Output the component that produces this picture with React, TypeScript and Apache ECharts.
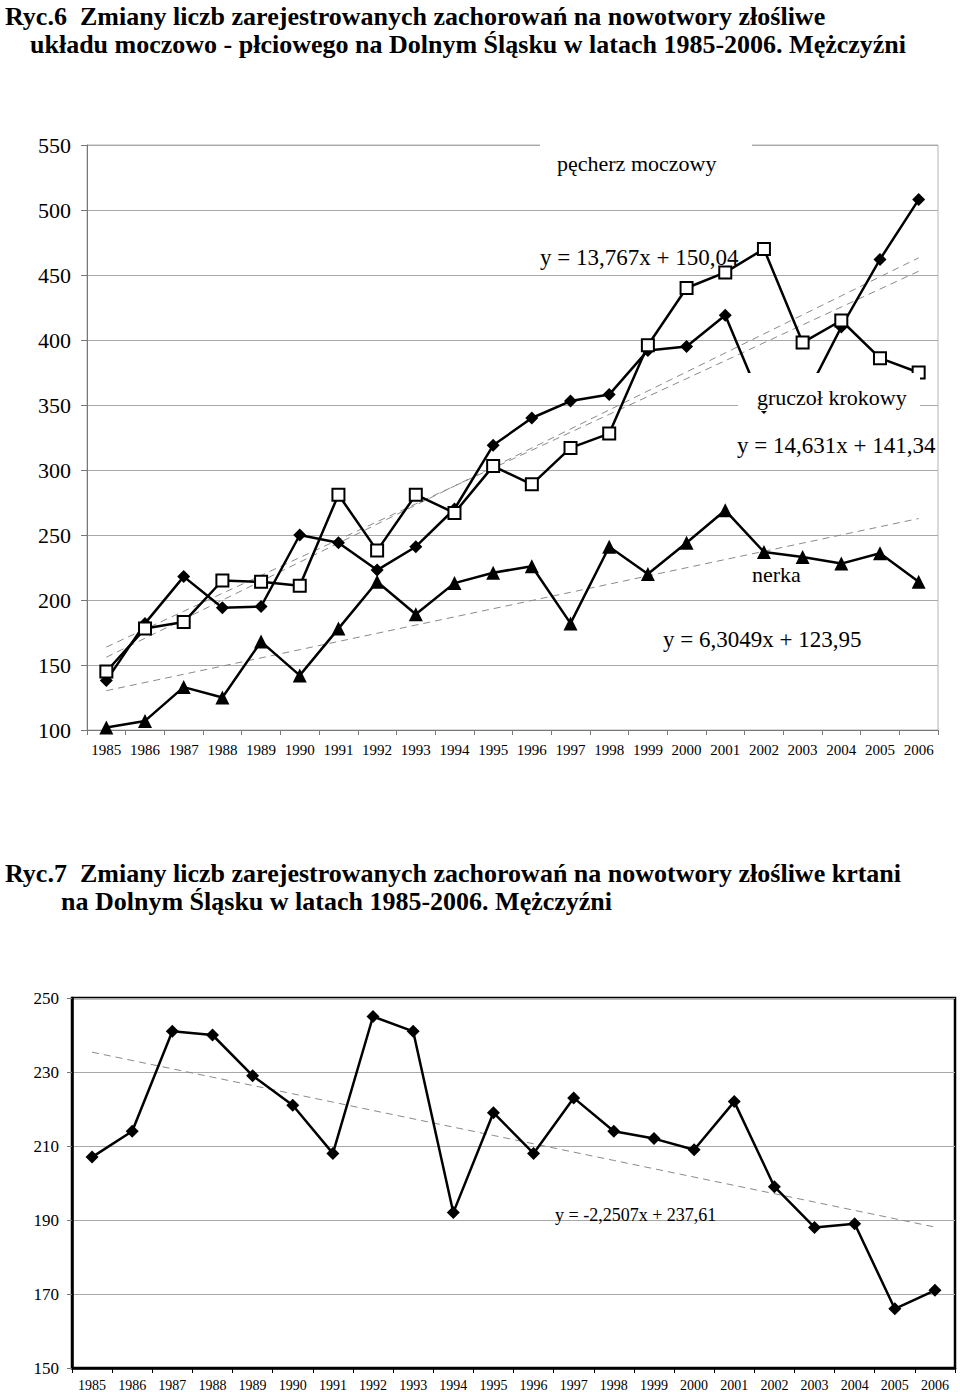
import React, { useEffect, useRef } from "react";
import * as echarts from "echarts";

const years = ["1985","1986","1987","1988","1989","1990","1991","1992","1993","1994","1995","1996","1997","1998","1999","2000","2001","2002","2003","2004","2005","2006"];

// Ryc.6 – gruczoł krokowy (diamonds)
const prostate = [138,182,218,194,195,250,244,223,241,270,319,340,353,358,392,395,419,348,352,410,462,508];
// Ryc.6 – pęcherz moczowy (open squares)
const bladder = [145,178,183,215,214,211,281,238,281,267,303,289,317,328,396,440,452,470,398,415,386,375];
// Ryc.6 – nerka (triangles)
const kidney = [102,107,133,125,168,142,178,214,189,213,221,226,182,241,220,244,269,237,233,228,236,214];
// Ryc.7 – krtań
const larynx = [207,214,241,240,229,221,208,245,241,192,219,208,223,214,212,209,222,199,188,189,166,171];

// linear trend coefficients printed on the chart: y = a*x + b (x = 1..22)
const trendBladder = { a: 13.767, b: 150.04 };
const trendProstate = { a: 14.631, b: 141.34 };
const trendKidney = { a: 6.3049, b: 123.95 };
const trendLarynx = { a: -2.2507, b: 237.61 };

const topTicks = { min: 100, max: 550, interval: 50 };
const bottomTicks = { min: 150, max: 250, interval: 20 };

const SERIF = '"Liberation Serif", "Times New Roman", serif';

const trend = (t: { a: number; b: number }) => years.map((_, i) => +(t.a * (i + 1) + t.b).toFixed(2));

export default function App() {
  const ref = useRef<HTMLDivElement>(null);
  useEffect(() => {
    if (!ref.current) return;
    const chart = echarts.init(ref.current, undefined, { renderer: "svg" });

    const dataLine = (name: string, data: number[], xi: number, symbol: string, size: number, open: boolean) => ({
      name,
      type: "line",
      xAxisIndex: xi,
      yAxisIndex: xi,
      data,
      symbol,
      symbolSize: size,
      showAllSymbol: true,
      z: 3,
      lineStyle: { color: "#000", width: 2.5 },
      itemStyle: open
        ? { color: "#fff", borderColor: "#000", borderWidth: 2 }
        : { color: "#000", borderColor: "#000", borderWidth: 0 },
    });
    const trendLine = (name: string, data: number[], xi: number) => ({
      name,
      type: "line",
      xAxisIndex: xi,
      yAxisIndex: xi,
      data,
      symbol: "none",
      z: 1,
      silent: true,
      lineStyle: { color: "#8a8a8a", width: 1, type: [7, 5] },
    });

    const txt = (text: string, x: number, y: number, size: number, bold = false, z = 5) => ({
      type: "text",
      x,
      y,
      z,
      style: {
        text,
        fill: "#000",
        fontFamily: SERIF,
        fontSize: size,
        fontWeight: bold ? "bold" : "normal",
        textAlign: "left",
        textVerticalAlign: "middle",
      },
    });
    const box = (x: number, y: number, w: number, h: number) => ({
      type: "rect",
      z: 9,
      shape: { x, y, width: w, height: h },
      style: { fill: "#fff" },
    });

    const xAxisCommon = (gi: number, fs: number, margin: number, lineColor: string, lw: number) => ({
      type: "category",
      gridIndex: gi,
      data: years,
      boundaryGap: true,
      axisLine: { show: true, lineStyle: { color: lineColor, width: lw } },
      axisTick: { show: true, length: 5, lineStyle: { color: lineColor } },
      axisLabel: { color: "#000", fontFamily: SERIF, fontSize: fs, margin, interval: 0 },
      splitLine: { show: false },
    });

    chart.setOption({
      animation: false,
      backgroundColor: "#fff",
      grid: [
        { left: 87, top: 145, width: 851, height: 585, show: true, borderColor: "#b5b5b5", borderWidth: 1 },
        { left: 72, top: 998, width: 883, height: 370, show: true, borderColor: "#000", borderWidth: 2.5 },
      ],
      xAxis: [
        xAxisCommon(0, 15, 12, "#777", 1),
        xAxisCommon(1, 14, 10, "#000", 2.5),
      ],
      yAxis: [
        {
          type: "value",
          gridIndex: 0,
          ...topTicks,
          axisLine: { show: true, lineStyle: { color: "#777", width: 1 } },
          axisTick: { show: true, length: 6, lineStyle: { color: "#777" } },
          axisLabel: { color: "#000", fontFamily: SERIF, fontSize: 22, margin: 16 },
          splitLine: { show: true, lineStyle: { color: "#a8a8a8", width: 1 } },
        },
        {
          type: "value",
          gridIndex: 1,
          ...bottomTicks,
          axisLine: { show: true, lineStyle: { color: "#000", width: 2.5 } },
          axisTick: { show: true, length: 5, lineStyle: { color: "#777" } },
          axisLabel: { color: "#000", fontFamily: SERIF, fontSize: 17, margin: 13 },
          splitLine: { show: true, lineStyle: { color: "#a8a8a8", width: 1 } },
        },
      ],
      series: [
        trendLine("trend pęcherz", trend(trendBladder), 0),
        trendLine("trend gruczoł", trend(trendProstate), 0),
        trendLine("trend nerka", trend(trendKidney), 0),
        dataLine("nerka", kidney, 0, "triangle", 14, false),
        dataLine("gruczoł krokowy", prostate, 0, "diamond", 13, false),
        dataLine("pęcherz moczowy", bladder, 0, "rect", 12, true),
        trendLine("trend krtań", trend(trendLarynx), 1),
        dataLine("krtań", larynx, 1, "diamond", 13, false),
      ],
      graphic: [
        txt("Ryc.6  Zmiany liczb zarejestrowanych zachorowań na nowotwory złośliwe", 5, 16, 26, true),
        txt("układu moczowo - płciowego na Dolnym Śląsku w latach 1985-2006. Mężczyźni", 30, 44, 26, true),
        box(540, 142, 212, 36),
        txt("pęcherz moczowy", 557, 163, 22, false, 10),
        txt("y = 13,767x + 150,04", 540, 257, 23, false, 2),
        box(738, 373, 182, 38),
        txt("gruczoł krokowy", 757, 397, 22, false, 10),
        txt("y = 14,631x + 141,34", 737, 445, 23, false, 2),
        txt("nerka", 752, 574, 22, false, 2),
        txt("y = 6,3049x + 123,95", 663, 639, 23, false, 2),
        txt("Ryc.7  Zmiany liczb zarejestrowanych zachorowań na nowotwory złośliwe krtani", 5, 873, 26, true),
        txt("na Dolnym Śląsku w latach 1985-2006. Mężczyźni", 61, 901, 26, true),
        txt("y = -2,2507x + 237,61", 555, 1215, 18, false, 2),
      ],
    });
    return () => chart.dispose();
  }, []);
  return <div ref={ref} style={{ position: "absolute", left: 0, top: 0, width: 960, height: 1392 }} />;
}
